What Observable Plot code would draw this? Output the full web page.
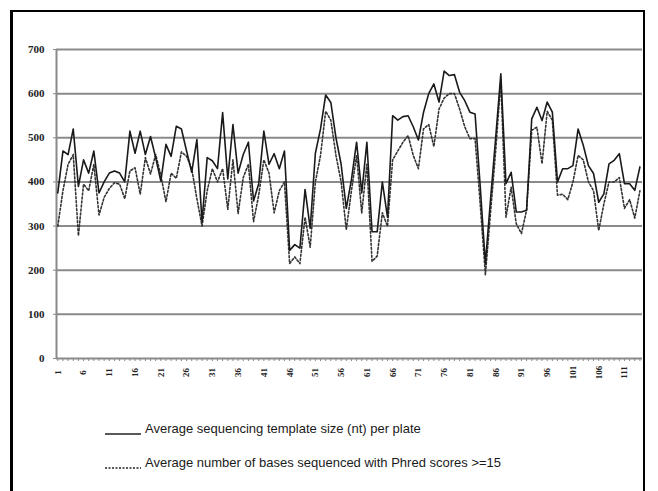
<!DOCTYPE html>
<html>
<head>
<meta charset="utf-8">
<script src="https://cdn.jsdelivr.net/npm/d3@7"></script>
<script src="https://cdn.jsdelivr.net/npm/@observablehq/plot@0.6"></script>
<style>
  body { margin: 0; background: #fff; }
  #wrap { position: relative; width: 658px; height: 491px; overflow: hidden; background: #fff; }
  #frame { position: absolute; left: 10px; top: 10px; width: 635px; height: 520px;
           border: 2px solid #000; border-left-width: 3px; box-sizing: border-box; }
  #chart { position: absolute; left: 0; top: 0; }
  .row { position: absolute; white-space: nowrap; font-family: "Liberation Sans", Arial, sans-serif;
         font-size: 13px; color: #1a1a1a; display: flex; align-items: center; }
  .row svg { margin-right: 4px; }
</style>
</head>
<body>
<div id="wrap">
  <div id="frame"></div>
  <div id="chart"></div>
  <div class="row" id="leg1" style="left:105px; top:421px;"></div>
  <div class="row" id="leg2" style="left:105px; top:455px;"></div>
</div>
<script>
// Plate numbers (categories)
const plates = [1,2,3,4,5,6,7,8,9,10,11,12,13,14,15,16,17,18,19,20,21,22,23,24,25,26,27,28,29,30,
  31,32,33,34,35,36,37,38,39,40,41,42,43,44,45,46,47,48,49,50,51,52,53,54,55,56,57,58,59,60,
  61,62,63,64,65,66,67,68,69,70,71,72,73,74,75,76,77,78,79,80,81,82,83,84,85,86,87,88,89,90,
  91,92,93,94,95,96,97,98,99,100,101,102,103,104,105,106,107,108,109,110,111,112,113,114];

// Average sequencing template size (nt) per plate
const templateSize = [375,470,462,520,390,450,420,470,375,400,420,425,420,400,515,465,515,462,503,455,
  402,485,458,526,520,470,422,496,310,455,448,430,557,407,530,420,462,490,357,396,
  515,440,464,430,470,245,258,250,383,295,465,520,597,580,500,440,340,405,490,375,
  490,287,287,400,320,550,540,548,550,525,495,558,600,622,581,651,641,643,603,584,
  558,554,390,215,360,500,645,396,422,332,332,336,543,569,539,581,558,400,430,430,
  437,520,483,437,419,354,373,441,449,464,396,396,381,434];

// Average number of bases sequenced with Phred scores >=15
const phredBases = [300,380,440,462,278,395,380,440,325,365,385,398,395,362,425,432,372,455,418,462,
  415,355,420,408,468,458,430,362,300,380,430,400,430,338,450,328,410,440,310,370,
  450,420,330,380,400,215,230,215,320,252,400,460,560,540,460,400,292,380,460,330,
  440,220,232,330,300,450,470,490,505,460,430,520,530,480,565,590,600,600,565,525,
  498,498,350,190,330,470,630,320,388,305,283,336,517,524,441,560,540,370,372,360,
  400,460,450,400,380,290,350,400,400,410,340,360,318,380];

const xTickLabels = [1,6,11,16,21,26,31,36,41,46,51,56,61,66,71,76,81,86,91,96,101,106,111];
const yTicks = [0,100,200,300,400,500,600,700];
const xDomain = [0.75, 114.5];

const seriesNames = [
  "Average sequencing template size (nt) per plate",
  "Average number of bases sequenced with Phred scores >=15"
];

const templateData = plates.map((p, i) => ({plate: p, value: templateSize[i]}));
const phredData = plates.map((p, i) => ({plate: p, value: phredBases[i]}));

const grid = "#8a8a8a";
const chart = Plot.plot({
  width: 658,
  height: 395,
  marginLeft: 56,
  marginRight: 16,
  marginTop: 49,
  marginBottom: 37,
  x: {domain: xDomain, axis: null},
  y: {domain: [0, 700], axis: null},
  style: {background: "transparent", overflow: "visible"},
  marks: [
    Plot.ruleY(yTicks, {stroke: grid, strokeWidth: 2}),
    Plot.ruleX([xDomain[0]], {y1: 0, y2: 700, stroke: grid, strokeWidth: 2}),
    Plot.axisX(plates, {tickSize: 3, text: null, label: null, stroke: grid, strokeWidth: 1}),
    Plot.axisY(yTicks, {tickSize: 3, label: null, stroke: grid, tickPadding: 9, fontFamily: "Liberation Serif, serif",
      fontWeight: "bold", fontSize: 11, fill: "#222"}),
    Plot.text(xTickLabels, {x: d => d, frameAnchor: "bottom", dy: 14, rotate: -90, textAnchor: "middle",
      lineAnchor: "middle", fontFamily: "Liberation Serif, serif", fontWeight: "bold", fontSize: 9, fill: "#222"}),
    Plot.line(phredData, {x: "plate", y: "value", stroke: "#333", strokeWidth: 1.6, strokeDasharray: "2,2"}),
    Plot.line(templateData, {x: "plate", y: "value", stroke: "#1a1a1a", strokeWidth: 1.6})
  ]
});
document.getElementById("chart").appendChild(chart);

function legendRow(id, dash, label) {
  const el = document.getElementById(id);
  el.innerHTML = `<svg width="36" height="14"><line x1="0" x2="36" y1="12" y2="12" stroke="#222" stroke-width="1.3" ${dash ? 'stroke-dasharray="2,1.5"' : ''}/></svg><span>${label}</span>`;
}
legendRow("leg1", false, seriesNames[0]);
legendRow("leg2", true, seriesNames[1].replace(">", "&gt;"));
</script>
</body>
</html>
